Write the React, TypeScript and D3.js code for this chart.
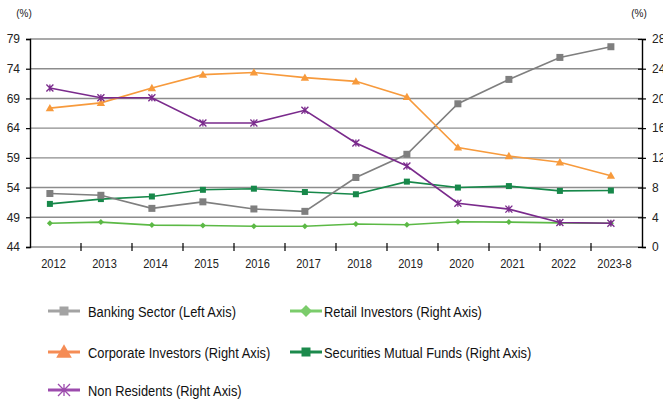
import React, { useEffect, useRef } from 'react';
import * as d3 from 'd3';

const years = ['2012', '2013', '2014', '2015', '2016', '2017', '2018', '2019', '2020', '2021', '2022', '2023-8'];
const banking = [53.0, 52.7, 50.5, 51.6, 50.4, 50.0, 55.7, 59.6, 68.1, 72.2, 75.9, 77.7];
const corporate = [18.7, 19.4, 21.4, 23.2, 23.5, 22.8, 22.3, 20.2, 13.4, 12.25, 11.4, 9.6];
const nonResidents = [21.4, 20.1, 20.1, 16.7, 16.7, 18.4, 14.0, 10.9, 5.9, 5.1, 3.3, 3.2];
const mutualFunds = [5.8, 6.45, 6.8, 7.7, 7.85, 7.4, 7.1, 8.8, 8.0, 8.2, 7.55, 7.6];
const retail = [3.2, 3.35, 2.95, 2.9, 2.8, 2.8, 3.1, 3.0, 3.4, 3.35, 3.25, 3.2];
const leftTicks = [44, 49, 54, 59, 64, 69, 74, 79];
const rightTicks = [0, 4, 8, 12, 16, 20, 24, 28];

const FONT = "'Liberation Sans', Arial, sans-serif";

function App() {
  const svgRef = useRef<SVGSVGElement>(null);

  useEffect(() => {
    const svg = d3.select(svgRef.current);
    svg.selectAll('*').remove();

    const left = 30, right = 642, top = 39, bottom = 247;

    const x = d3.scaleBand().domain(years).range([left, right]);
    const px = (d: string) => (x(d) as number) + x.bandwidth() * 0.39;
    const yL = d3.scaleLinear().domain([44, 79]).range([bottom, top]);
    const yR = d3.scaleLinear().domain([0, 28]).range([bottom, top]);

    // grid
    svg.append('g').selectAll('line').data(leftTicks).enter().append('line')
      .attr('x1', left).attr('x2', right)
      .attr('y1', d => yL(d)).attr('y2', d => yL(d))
      .attr('stroke', '#8c8c8c').attr('stroke-width', 1.4);

    // left axis
    const gl = svg.append('g').attr('transform', `translate(${left},0)`)
      .call(d3.axisLeft(yL).tickValues(leftTicks).tickSize(4).tickPadding(6));
    gl.select('.domain').attr('stroke', '#000').attr('stroke-width', 1.4);
    gl.selectAll('.tick line').attr('stroke', '#000').attr('stroke-width', 1.2);
    gl.selectAll('text').attr('font-family', FONT).attr('font-size', 12).attr('fill', '#222');

    // right axis
    const gr = svg.append('g').attr('transform', `translate(${right},0)`)
      .call(d3.axisRight(yR).tickValues(rightTicks).tickSizeInner(4).tickSizeOuter(4).tickPadding(6));
    gr.select('.domain').attr('stroke', '#000').attr('stroke-width', 1.4);
    gr.selectAll('.tick line').attr('x1', -4).attr('stroke', '#000').attr('stroke-width', 1.2);
    gr.selectAll('text').attr('font-family', FONT).attr('font-size', 12).attr('fill', '#222');

    // x ticks between categories
    svg.append('g').selectAll('line').data(years.slice(1)).enter().append('line')
      .attr('x1', d => x(d) as number).attr('x2', d => x(d) as number)
      .attr('y1', bottom - 4).attr('y2', bottom + 4)
      .attr('stroke', '#000').attr('stroke-width', 1.2);
    svg.append('g').selectAll('text').data(years).enter().append('text')
      .attr('transform', d => `translate(${(x(d) as number) + x.bandwidth() / 2 - 2},${bottom + 21}) scale(0.92,1)`)
      .attr('text-anchor', 'middle')
      .attr('font-family', FONT).attr('font-size', 12).attr('fill', '#222')
      .text(d => d);

    svg.append('text').attr('x', 24).attr('y', 17).attr('text-anchor', 'middle')
      .attr('font-family', FONT).attr('font-size', 10).attr('fill', '#222').text('(%)');
    svg.append('text').attr('x', 639).attr('y', 17).attr('text-anchor', 'middle')
      .attr('font-family', FONT).attr('font-size', 10).attr('fill', '#222').text('(%)');

    const series = [
      { name: 'Banking Sector (Left Axis)', values: banking, y: yL, color: '#7f7f7f', legColor: '#a3a3a3', marker: 'square', size: 7, lx: 48, ly: 311, tx: 40 },
      { name: 'Corporate Investors (Right Axis)', values: corporate, y: yR, color: '#f79a3c', legColor: '#f58c55', marker: 'triangle', size: 7, lx: 48, ly: 352, tx: 40 },
      { name: 'Non Residents (Right Axis)', values: nonResidents, y: yR, color: '#7a2a8c', legColor: '#9c4bad', marker: 'star', size: 7, lx: 48, ly: 390, tx: 40 },
      { name: 'Retail Investors (Right Axis)', values: retail, y: yR, color: '#5cb946', legColor: '#7bcc6b', marker: 'diamond', size: 6, lx: 290, ly: 311, tx: 34 },
      { name: 'Securities Mutual Funds (Right Axis)', values: mutualFunds, y: yR, color: '#17884a', legColor: '#1c8a4c', marker: 'square', size: 6, lx: 290, ly: 352, tx: 34 },
    ];

    const drawMarker = (g: any, type: string, cx: number, cy: number, s: number, color: string) => {
      if (type === 'square') {
        g.append('rect').attr('x', cx - s / 2).attr('y', cy - s / 2).attr('width', s).attr('height', s).attr('fill', color);
      } else if (type === 'triangle') {
        g.append('path').attr('d', `M${cx},${cy - s * 0.6}L${cx + s * 0.6},${cy + s * 0.45}L${cx - s * 0.6},${cy + s * 0.45}Z`).attr('fill', color);
      } else if (type === 'diamond') {
        g.append('path').attr('d', `M${cx},${cy - s / 2}L${cx + s / 2},${cy}L${cx},${cy + s / 2}L${cx - s / 2},${cy}Z`).attr('fill', color);
      } else {
        const h = s / 2;
        g.append('path')
          .attr('d', `M${cx - h},${cy - h}L${cx + h},${cy + h}M${cx - h},${cy + h}L${cx + h},${cy - h}M${cx},${cy - h}L${cx},${cy + h}`)
          .attr('stroke', color).attr('stroke-width', 1.3).attr('fill', 'none');
      }
    };

    const drawOrder = [series[3], series[4], series[0], series[1], series[2]];
    drawOrder.forEach(s => {
      const line = d3.line<number>().x((_, i) => px(years[i])).y(d => s.y(d));
      svg.append('path').datum(s.values).attr('d', line)
        .attr('fill', 'none').attr('stroke', s.color).attr('stroke-width', 1.6);
      const g = svg.append('g');
      s.values.forEach((v, i) => drawMarker(g, s.marker, px(years[i]), s.y(v), s.size, s.color));
    });

    // legend
    series.forEach(s => {
      const g = svg.append('g');
      g.append('line').attr('x1', s.lx).attr('x2', s.lx + 32).attr('y1', s.ly).attr('y2', s.ly)
        .attr('stroke', s.legColor).attr('stroke-width', 3);
      const big = s.marker === 'square' ? 9 : s.marker === 'triangle' ? 13 : 12;
      drawMarker(g, s.marker, s.lx + 16, s.ly, big, s.legColor);
      g.append('text').attr('transform', `translate(${s.lx + s.tx},${s.ly + 5.5}) scale(0.83,1)`)
        .attr('font-family', FONT).attr('font-size', 15.5).attr('fill', '#111')
        .text(s.name);
    });
  }, []);

  return <svg ref={svgRef} width={663} height={403} style={{ position: 'absolute', left: 0, top: 0 }} />;
}

export default App;
